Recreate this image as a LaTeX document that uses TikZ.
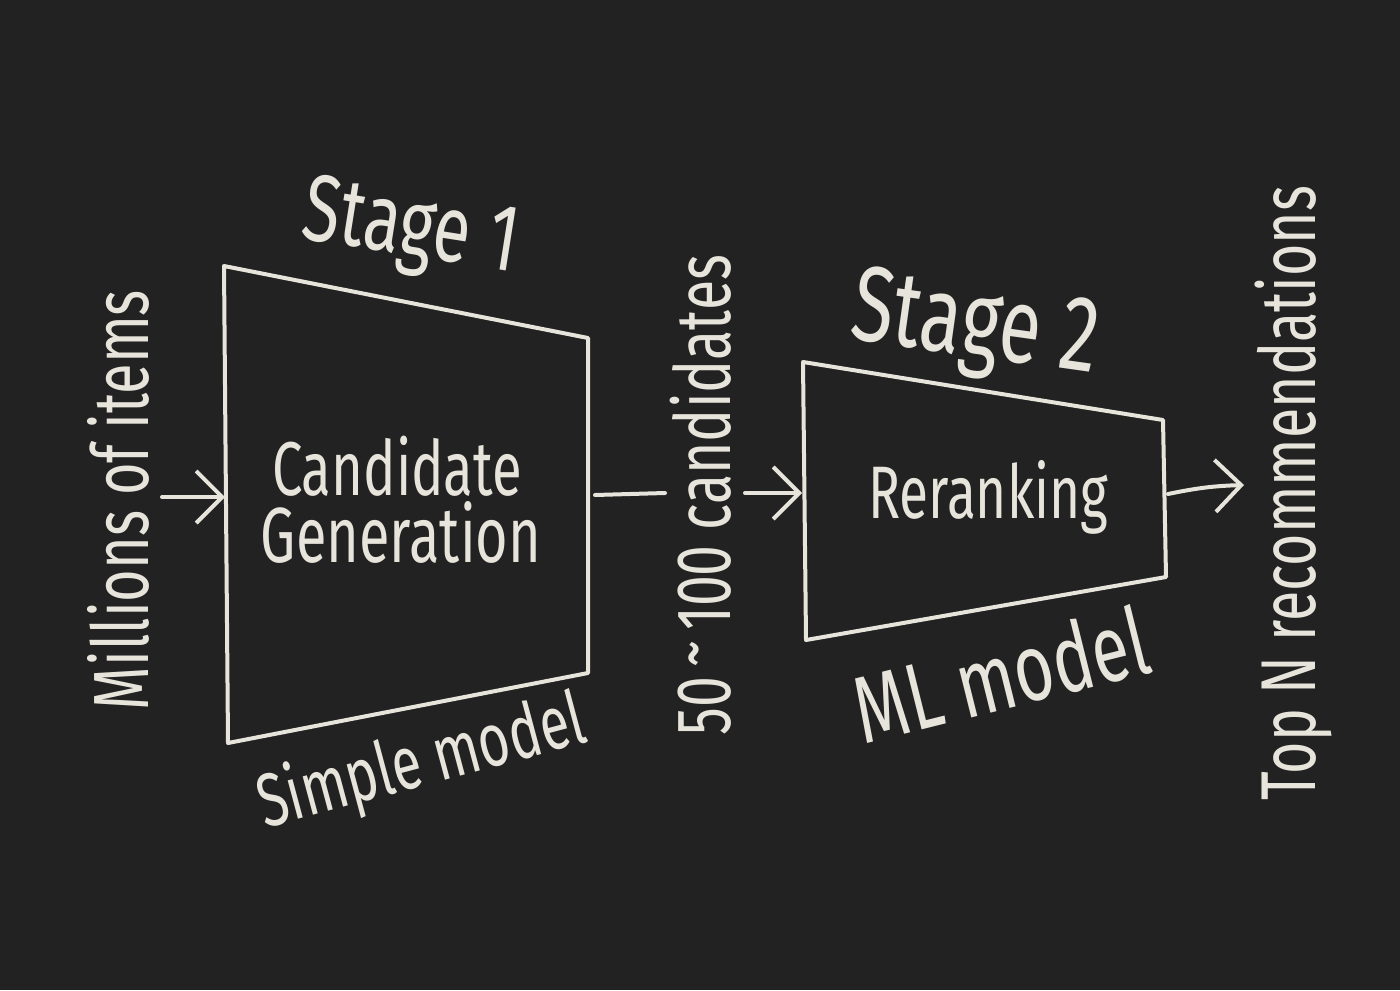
\documentclass[tikz,border=0pt]{standalone}
\usepackage{fontspec}
\setmainfont{Fira Sans}
\usepackage{graphicx}
\usetikzlibrary{arrows.meta}
\definecolor{board}{HTML}{222222}
\definecolor{chalk}{HTML}{E6E4DB}
\newcommand\chalktext[2]{\resizebox{#1}{!}{\scalebox{1}[1.4]{#2}}}
\begin{document}
\begin{tikzpicture}[x=0.5pt,y=-0.5pt,
  chalkline/.style={draw=chalk,line width=2pt,line join=round,line cap=round},
  chalkarrow/.style={chalkline,-{Straight Barb[length=13pt,width=26pt,line width=2pt]}},
  lbl/.style={text=chalk,inner sep=0pt}]
\fill[board] (0,0) rectangle (1400,990);
\useasboundingbox (0,0) rectangle (1400,990);
% stage 1 trapezoid
\draw[chalkline] (224,266) -- (588,338) -- (588,673) -- (228,743) -- cycle;
% stage 2 trapezoid
\draw[chalkline] (803,362) -- (1163,420) -- (1166,577) -- (806,640) -- cycle;
% connector points
\coordinate (in0) at (162,497);
\coordinate (t1L) at (225,497);
\coordinate (t1R) at (595,495);
\coordinate (mid1) at (665,493);
\coordinate (mid2) at (745,493);
\coordinate (t2L) at (802,493);
\coordinate (t2R) at (1168,494);
\coordinate (out1) at (1244,485);
% texts
\node[lbl,rotate=90] (mil) at (118,500) {\chalktext{210pt}{Millions of items}};
\node[lbl,rotate=-9] (st1) at (410,232) {\chalktext{108pt}{Stage 1}};
\node[lbl] (cand) at (397,466) {\chalktext{125pt}{Candidate}};
\node[lbl] (gen) at (401,532) {\chalktext{140pt}{Generation}};
\node[lbl,rotate=15] (simp) at (422,764) {\chalktext{168pt}{Simple model}};
\node[lbl,rotate=90] (cnd) at (701,495) {\chalktext{240pt}{50\,\raisebox{0.3ex}{\char"7E}\,100 candidates}};
\node[lbl,rotate=-8] (st2) at (975,330) {\chalktext{124pt}{Stage 2}};
\node[lbl] (rer) at (988,497) {\chalktext{120pt}{Reranking}};
\node[lbl,rotate=14] (ml) at (1001,674) {\chalktext{150pt}{ML model}};
\node[lbl,rotate=90] (top) at (1293,493) {\chalktext{307pt}{Top N recommendations}};
% connectors
\draw[chalkarrow] (in0) -- (t1L);
\draw[chalkline] (t1R) -- (mid1);
\draw[chalkarrow] (mid2) -- (t2L);
\draw[chalkarrow] (t2R) to[bend left=5] (out1);
\end{tikzpicture}
\end{document}
